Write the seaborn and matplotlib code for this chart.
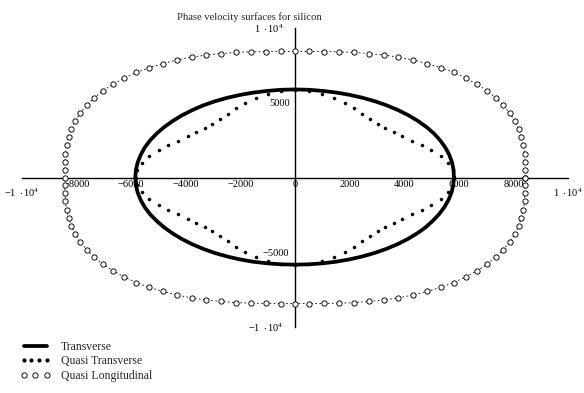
import numpy as np
import matplotlib
matplotlib.use("Agg")
import matplotlib.pyplot as plt
from matplotlib.lines import Line2D
from matplotlib.legend_handler import HandlerLine2D
import seaborn as sns

# ---------------- data (phase velocity, m/s) ----------------
title = "Phase velocity surfaces for silicon"
series_names = ["Transverse", "Quasi Transverse", "Quasi Longitudinal"]

# Transverse: sampled every 5 degrees, 0..360
t_angles_deg = np.linspace(0, 360, 73)
t_radius = [5820, 5830, 5840, 5850, 5860, 5870, 5880, 5880, 5880, 5880, 5880, 5880,
            5880, 5880, 5880, 5880, 5880, 5890, 5890, 5890, 5880, 5880, 5880, 5880,
            5880, 5880, 5870, 5870, 5860, 5860, 5860, 5860, 5860, 5850, 5850, 5850,
            5850, 5850, 5850, 5850, 5850, 5850, 5840, 5840, 5840, 5840, 5840, 5840,
            5840, 5840, 5840, 5840, 5830, 5830, 5830, 5830, 5830, 5830, 5830, 5830,
            5830, 5830, 5830, 5830, 5830, 5830, 5820, 5820, 5820, 5820, 5820, 5820,
            5820]

# Quasi transverse: sampled every 5 degrees, 0..360
qt_angles_deg = np.linspace(0, 360, 73)
qt_radius = [5840, 5800, 5690, 5520, 5320, 5120, 4940, 4800, 4710, 4670, 4710, 4800,
             4940, 5120, 5320, 5520, 5690, 5800,
             5840, 5800, 5690, 5520, 5320, 5120, 4940, 4800, 4710, 4670, 4710, 4800,
             4940, 5120, 5320, 5520, 5690, 5800,
             5840, 5800, 5690, 5520, 5320, 5120, 4940, 4800, 4710, 4670, 4710, 4800,
             4940, 5120, 5320, 5520, 5690, 5800,
             5840, 5800, 5690, 5520, 5320, 5120, 4940, 4800, 4710, 4670, 4710, 4800,
             4940, 5120, 5320, 5520, 5690, 5800,
             5840]

# Quasi longitudinal: sampled every 3.6 degrees, 0..360
ql_angles_deg = np.linspace(0, 360, 101)
ql_radius = [8430, 8450, 8490, 8560, 8640, 8720, 8810, 8900, 8970, 9030, 9080, 9120, 9130,
             9130, 9120, 9080, 9030, 8970, 8900, 8810, 8720, 8640, 8560, 8490, 8450,
             8430, 8450, 8490, 8560, 8640, 8720, 8810, 8900, 8970, 9030, 9080, 9120, 9130,
             9130, 9120, 9080, 9030, 8970, 8900, 8810, 8720, 8640, 8560, 8490, 8450,
             8430, 8450, 8490, 8560, 8640, 8720, 8810, 8900, 8970, 9030, 9080, 9120, 9130,
             9130, 9120, 9080, 9030, 8970, 8900, 8810, 8720, 8640, 8560, 8490, 8450,
             8430, 8450, 8490, 8560, 8640, 8720, 8810, 8900, 8970, 9030, 9080, 9120, 9130,
             9130, 9120, 9080, 9030, 8970, 8900, 8810, 8720, 8640, 8560, 8490, 8450,
             8430]

x_major_ticks = [-8000, -6000, -4000, -2000, 0, 2000, 4000, 6000, 8000]
x_major_labels = ["\u22128000", "\u22126000", "\u22124000", "\u22122000", "0",
                  "2000", "4000", "6000", "8000"]
y_major_ticks = [-5000, 5000]
y_major_labels = ["\u22125000", "5000"]
end_ticks = [-10000, 10000]
end_labels = [r"$-1\ \cdot 10^{4}$", r"$1\ \cdot 10^{4}$"]


def to_xy(angles_deg, radius):
    a = np.deg2rad(np.asarray(angles_deg, dtype=float))
    r = np.asarray(radius, dtype=float)
    return r * np.cos(a), r * np.sin(a)


# ---------------- style ----------------
sns.set_style("white")
plt.rcParams["font.family"] = ["Liberation Serif", "DejaVu Serif"]
plt.rcParams["mathtext.fontset"] = "custom"
plt.rcParams["mathtext.rm"] = "Liberation Serif"
plt.rcParams["mathtext.it"] = "Liberation Serif:italic"
plt.rcParams["mathtext.default"] = "regular"

fig = plt.figure(figsize=(5.84, 3.93), dpi=100)
ax = fig.add_axes([22 / 584, 1 - 327 / 393, 546 / 584, 299 / 393])

tx, ty = to_xy(t_angles_deg, t_radius)
qtx, qty = to_xy(qt_angles_deg, qt_radius)
qlx, qly = to_xy(ql_angles_deg, ql_radius)

sns.lineplot(x=tx, y=ty, sort=False, estimator=None, color="black",
             linewidth=2.7, ax=ax)
sns.scatterplot(x=qtx, y=qty, color="black", s=5, marker="o",
                edgecolor="black", linewidth=0.3, ax=ax, zorder=3)
sns.lineplot(x=qlx, y=qly, sort=False, estimator=None, color="black",
             linewidth=0.6, linestyle=(0, (2, 3)), marker="o", markersize=3.8,
             markerfacecolor="white", markeredgecolor="black",
             markeredgewidth=0.65, ax=ax)

ax.set_xlim(-10000, 10000)
ax.set_ylim(-10000, 10000)
for s in ["top", "right"]:
    ax.spines[s].set_visible(False)
ax.spines["left"].set_position(("data", 0))
ax.spines["bottom"].set_position(("data", 0))
for s in ["left", "bottom"]:
    ax.spines[s].set_color("black")
    ax.spines[s].set_linewidth(1.0)
    ax.spines[s].set_zorder(1)

ax.set_xticks(x_major_ticks, labels=x_major_labels)
ax.set_yticks(y_major_ticks, labels=y_major_labels)
ax.set_xticks(end_ticks, labels=end_labels, minor=True)
ax.set_yticks(end_ticks, labels=end_labels, minor=True)
ax.tick_params(which="major", direction="in", length=4, width=1, colors="black",
               labelsize=7.5, pad=2)
ax.tick_params(which="minor", direction="inout", length=9, width=1, colors="black",
               labelsize=7.5, pad=2)
ax.tick_params(axis="y", which="both", pad=4)
ax.set_xlabel("")
ax.set_ylabel("")

fig.text(249 / 584, 1 - 17 / 393, title, ha="center", va="center", fontsize=7.7)

h_t = Line2D([], [], color="black", linewidth=2.7)
h_qt = Line2D([], [], color="black", linestyle="none", marker="o", markersize=2)
h_ql = Line2D([], [], color="black", linestyle="none", marker="o", markersize=3.8,
              markerfacecolor="white", markeredgewidth=0.65)
fig.legend([h_t, h_qt, h_ql], series_names, loc="upper left",
           bbox_to_anchor=(20 / 584, 1 - 341 / 393), frameon=False,
           borderpad=0, borderaxespad=0, fontsize=8.5, handlelength=2.6,
           handletextpad=0.85, labelspacing=0.2, numpoints=3,
           handler_map={h_qt: HandlerLine2D(numpoints=4)})

fig.savefig("out.png", dpi=100)
